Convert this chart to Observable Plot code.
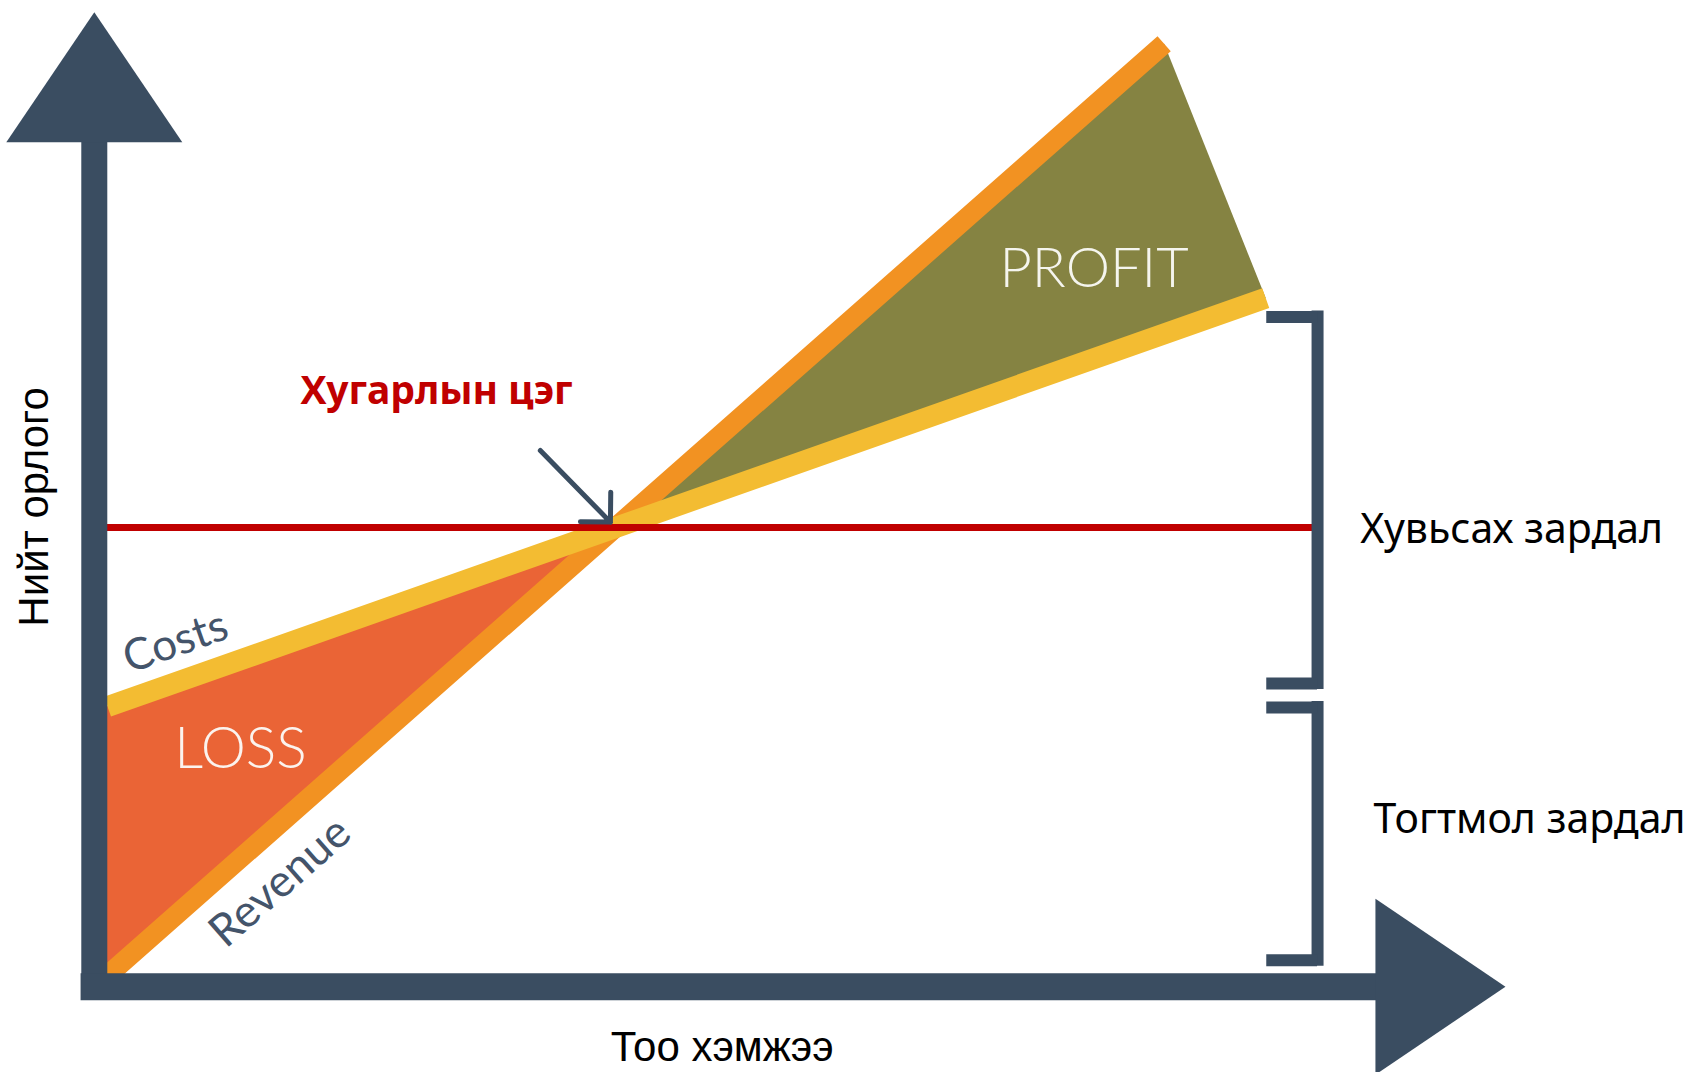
<!DOCTYPE html>
<html>
<head>
<meta charset="utf-8">
<script src="https://cdn.jsdelivr.net/npm/d3@7"></script>
<script src="https://cdn.jsdelivr.net/npm/@observablehq/plot@0.6"></script>
<style>
  html, body { margin: 0; padding: 0; background: #ffffff; }
  #chart svg { display: block; }
  g[aria-label="line-label"] text { letter-spacing: 4px; }
  g[aria-label="region-label"] text { letter-spacing: 7px; }
</style>
</head>
<body>
<div id="chart"></div>
<script>
// ---- data (conceptual break-even chart) ----
const revenueQuantity = [0, 50, 104];
const revenue = [0, 50, 104];
const costQuantity = [0, 50, 114];
const costs = [30, 50, 75.6];
const breakEvenQuantity = 50;
const breakEvenAmount = 50;
const bracketLabels = ["Хувьсах зардал", "Тогтмол зардал"];
const bracketLow = [32.6, 1.7];
const bracketHigh = [73.5, 29.9];
const regionLabels = ["LOSS", "PROFIT"];
const lineLabels = ["Revenue", "Costs"];
const axisTitles = ["Тоо хэмжээ", "Нийт орлого"];
const breakEvenLabel = "Хугарлын цэг";

// ---- colours ----
const AXIS = "#3a4d61";
const ORANGE = "#f29222";
const YELLOW = "#f3bc32";
const LOSS = "#ea6436";
const PROFIT = "#858342";
const RED = "#c00000";

const revenueRows = revenueQuantity.map((q, i) => ({q, v: revenue[i]}));
const costRows = costQuantity.map((q, i) => ({q, v: costs[i]}));
const lossRows = [0, 1].map(i => ({q: revenueQuantity[i], rev: revenue[i], cost: costs[i]}));
const profitRows = [
  {q: breakEvenQuantity, v: breakEvenAmount},
  {q: revenueQuantity[2], v: revenue[2]},
  {q: costQuantity[2], v: costs[2]}
];
const bracketRows = bracketLabels.map((label, i) => ({label, lo: bracketLow[i], hi: bracketHigh[i]}));

// axis geometry (data units)
const axisQ = -1.3, axisAmt = -1.25;
const arrowHead = {
  draw(ctx) {
    ctx.moveTo(-88, 0);
    ctx.lineTo(88, 0);
    ctx.lineTo(0, -130);
    ctx.closePath();
  }
};

const plot = Plot.plot({
  width: 1689,
  height: 1072,
  margin: 0,
  x: {type: "linear", domain: [0, 50], range: [107, 615], axis: null},
  y: {type: "linear", domain: [0, 50], range: [975, 527], axis: null},
  style: {background: "#ffffff", overflow: "visible"},
  marks: [
    // loss region
    Plot.areaY(lossRows, {x: "q", y1: "rev", y2: "cost", fill: LOSS, curve: "linear"}),
    // profit region
    Plot.line(profitRows, {x: "q", y: "v", fill: PROFIT, stroke: "none"}),
    // revenue and cost lines
    Plot.line(revenueRows, {x: "q", y: "v", stroke: ORANGE, strokeWidth: 20, strokeLinecap: "butt", strokeLinejoin: "miter"}),
    Plot.line(costRows, {x: "q", y: "v", stroke: YELLOW, strokeWidth: 21, strokeLinecap: "butt", strokeLinejoin: "miter"}),
    // break-even amount line
    Plot.ruleY([breakEvenAmount], {x1: 0, x2: 118.7, stroke: RED, strokeWidth: 7}),
    // axes
    Plot.ruleX([axisQ], {y1: -2.8, y2: 93.5, stroke: AXIS, strokeWidth: 26}),
    Plot.ruleY([axisAmt], {x1: -2.6, x2: 125, stroke: AXIS, strokeWidth: 27}),
    Plot.dot([{q: axisQ, v: 93.0}], {x: "q", y: "v", symbol: arrowHead, fill: AXIS, stroke: "none"}),
    Plot.dot([{q: 124.8, v: axisAmt}], {x: "q", y: "v", symbol: arrowHead, fill: AXIS, stroke: "none", rotate: 90}),
    // brackets
    Plot.ruleX(bracketRows, {x: 119.1, y1: "lo", y2: "hi", stroke: AXIS, strokeWidth: 12, strokeLinecap: "square"}),
    Plot.ruleY(bracketRows, {y: "hi", x1: 114.1, x2: 119.1, stroke: AXIS, strokeWidth: 12}),
    Plot.ruleY(bracketRows, {y: "lo", x1: 114.1, x2: 119.1, stroke: AXIS, strokeWidth: 12}),
    // break-even arrow
    Plot.arrow([{x1: 42.6, y1: 58.6, x2: 49.5, y2: 50.6}], {x1: "x1", y1: "y1", x2: "x2", y2: "y2", stroke: AXIS, strokeWidth: 5, headLength: 9, headAngle: 90}),
    // texts
    Plot.text([breakEvenLabel], {x: 19.0, y: 63.8, text: d => d, textAnchor: "start", lineAnchor: "bottom", fill: RED, fontWeight: "bold", fontSize: 39, fontFamily: "Noto Sans"}),
    Plot.text([bracketLabels[0]], {x: 123.3, y: 48.3, text: d => d, textAnchor: "start", lineAnchor: "bottom", fill: "#000", fontSize: 41, fontFamily: "Noto Sans"}),
    Plot.text([bracketLabels[1]], {x: 124.6, y: 15.85, text: d => d, textAnchor: "start", lineAnchor: "bottom", fill: "#000", fontSize: 41, fontFamily: "Noto Sans"}),
    Plot.text([axisTitles[0]], {x: 60.5, y: -9.5, text: d => d, textAnchor: "middle", lineAnchor: "bottom", fill: "#000", fontSize: 42, fontFamily: "Liberation Sans"}),
    Plot.text([axisTitles[1]], {x: -5.9, y: 52.3, text: d => d, textAnchor: "middle", lineAnchor: "bottom", rotate: -90, fill: "#000", fontSize: 42, fontFamily: "Liberation Sans"}),
    Plot.text([regionLabels[1]], {x: 97.1, y: 76.8, text: d => d, textAnchor: "middle", lineAnchor: "bottom", fill: "#f5f5ee", fontSize: 56, fontWeight: 300, fontFamily: "Lato", ariaLabel: "region-label"}),
    Plot.text([regionLabels[0]], {x: 13.1, y: 23.2, text: d => d, textAnchor: "middle", lineAnchor: "bottom", fill: "#fbf3ee", fontSize: 57, fontWeight: 300, fontFamily: "Lato", ariaLabel: "region-label"}),
    Plot.text([lineLabels[1]], {x: 6.7, y: 37.2, text: d => d, textAnchor: "middle", lineAnchor: "middle", rotate: -19.5, fill: "#44546a", fontSize: 44, fontFamily: "Lato", ariaLabel: "line-label"}),
    Plot.text([lineLabels[0]], {x: 17.0, y: 10.4, text: d => d, textAnchor: "middle", lineAnchor: "middle", rotate: -41.3, fill: "#44546a", fontSize: 45, fontFamily: "Lato", ariaLabel: "line-label"})
  ]
});
document.getElementById("chart").appendChild(plot);
</script>
</body>
</html>
